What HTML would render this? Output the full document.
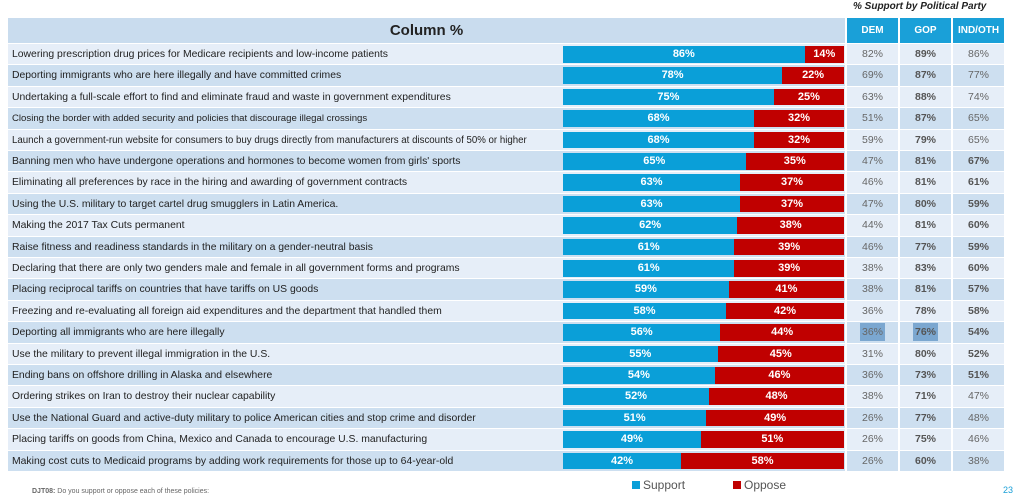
<!DOCTYPE html><html><head><meta charset="utf-8"><style>
*{margin:0;padding:0;box-sizing:border-box}
body{width:1024px;height:503px;background:#fff;font-family:"Liberation Sans",sans-serif;position:relative;overflow:hidden}
.hdr{position:absolute;top:18px;height:25px;background:#c9dcee;left:8px;width:837px;text-align:center;font-weight:bold;font-size:15px;line-height:25px;color:#222}
.ph{position:absolute;top:18px;height:25px;background:#1aa0d8;color:#fff;font-size:10px;font-weight:bold;text-align:center;line-height:25px}
.row{position:absolute;left:8px;width:996px;height:20.4px;display:flex}
.lab{width:837px;position:relative;font-size:10.4px;line-height:21px;padding-left:4px;color:#222;white-space:nowrap}
.row .c{width:51px;margin-left:2px;text-align:center;font-size:10.5px;line-height:21px;color:#666}
.b{color:#555!important;font-weight:bold}
.e{background:#e6eef8}.o{background:#cddff0}
.bar{position:absolute;left:555px;top:2px;height:16.5px;width:281px;display:flex;font-weight:bold;font-size:11px;color:#fff;line-height:16.5px;text-align:center}
.s{background:#0a9fd8}.p{background:#c00000}
</style></head><body>
<div style="position:absolute;left:853px;top:1px;font-size:10px;font-weight:bold;font-style:italic;color:#222">% Support by Political Party</div>
<div class="hdr">Column %</div>
<div class="ph" style="left:847px;width:51px">DEM</div>
<div class="ph" style="left:900px;width:51px">GOP</div>
<div class="ph" style="left:953px;width:51px">IND/OTH</div>

<div class="row" style="top:44px"><div class="lab e">Lowering prescription drug prices for Medicare recipients and low-income patients<div class="bar"><div class="s" style="width:86%">86%</div><div class="p" style="width:14%">14%</div></div></div><div class="c e">82%</div><div class="c e b">89%</div><div class="c e">86%</div></div>
<div class="row" style="top:65.4px"><div class="lab o">Deporting immigrants who are here illegally and have committed crimes<div class="bar"><div class="s" style="width:78%">78%</div><div class="p" style="width:22%">22%</div></div></div><div class="c o">69%</div><div class="c o b">87%</div><div class="c o">77%</div></div>
<div class="row" style="top:86.8px"><div class="lab e">Undertaking a full-scale effort to find and eliminate fraud and waste in government expenditures<div class="bar"><div class="s" style="width:75%">75%</div><div class="p" style="width:25%">25%</div></div></div><div class="c e">63%</div><div class="c e b">88%</div><div class="c e">74%</div></div>
<div class="row" style="top:108.2px"><div class="lab o" style="font-size:9.6px">Closing the border with added security and policies that discourage illegal crossings<div class="bar"><div class="s" style="width:68%">68%</div><div class="p" style="width:32%">32%</div></div></div><div class="c o">51%</div><div class="c o b">87%</div><div class="c o">65%</div></div>
<div class="row" style="top:129.6px"><div class="lab e" style="font-size:9.7px">Launch a government-run website for consumers to buy drugs directly from manufacturers at discounts of 50% or higher<div class="bar"><div class="s" style="width:68%">68%</div><div class="p" style="width:32%">32%</div></div></div><div class="c e">59%</div><div class="c e b">79%</div><div class="c e">65%</div></div>
<div class="row" style="top:151px"><div class="lab o">Banning men who have undergone operations and hormones to become women from girls' sports<div class="bar"><div class="s" style="width:65%">65%</div><div class="p" style="width:35%">35%</div></div></div><div class="c o">47%</div><div class="c o b">81%</div><div class="c o b">67%</div></div>
<div class="row" style="top:172.4px"><div class="lab e">Eliminating all preferences by race in the hiring and awarding of government contracts<div class="bar"><div class="s" style="width:63%">63%</div><div class="p" style="width:37%">37%</div></div></div><div class="c e">46%</div><div class="c e b">81%</div><div class="c e b">61%</div></div>
<div class="row" style="top:193.8px"><div class="lab o">Using the U.S. military to target cartel drug smugglers in Latin America.<div class="bar"><div class="s" style="width:63%">63%</div><div class="p" style="width:37%">37%</div></div></div><div class="c o">47%</div><div class="c o b">80%</div><div class="c o b">59%</div></div>
<div class="row" style="top:215.2px"><div class="lab e">Making the 2017 Tax Cuts permanent<div class="bar"><div class="s" style="width:62%">62%</div><div class="p" style="width:38%">38%</div></div></div><div class="c e">44%</div><div class="c e b">81%</div><div class="c e b">60%</div></div>
<div class="row" style="top:236.6px"><div class="lab o">Raise fitness and readiness standards in the military on a gender-neutral basis<div class="bar"><div class="s" style="width:61%">61%</div><div class="p" style="width:39%">39%</div></div></div><div class="c o">46%</div><div class="c o b">77%</div><div class="c o b">59%</div></div>
<div class="row" style="top:258px"><div class="lab e">Declaring that there are only two genders male and female in all government forms and programs<div class="bar"><div class="s" style="width:61%">61%</div><div class="p" style="width:39%">39%</div></div></div><div class="c e">38%</div><div class="c e b">83%</div><div class="c e b">60%</div></div>
<div class="row" style="top:279.4px"><div class="lab o">Placing reciprocal tariffs on countries that have tariffs on US goods<div class="bar"><div class="s" style="width:59%">59%</div><div class="p" style="width:41%">41%</div></div></div><div class="c o">38%</div><div class="c o b">81%</div><div class="c o b">57%</div></div>
<div class="row" style="top:300.8px"><div class="lab e">Freezing and re-evaluating all foreign aid expenditures and the department that handled them<div class="bar"><div class="s" style="width:58%">58%</div><div class="p" style="width:42%">42%</div></div></div><div class="c e">36%</div><div class="c e b">78%</div><div class="c e b">58%</div></div>
<div class="row" style="top:322.2px"><div class="lab o">Deporting all immigrants who are here illegally<div class="bar"><div class="s" style="width:56%">56%</div><div class="p" style="width:44%">44%</div></div></div><div class="c o"><span style="background:#7ba7d0;padding:3px 2px">36%</span></div><div class="c o b"><span style="background:#7ba7d0;padding:3px 2px">76%</span></div><div class="c o b">54%</div></div>
<div class="row" style="top:343.6px"><div class="lab e">Use the military to prevent illegal immigration in the U.S.<div class="bar"><div class="s" style="width:55%">55%</div><div class="p" style="width:45%">45%</div></div></div><div class="c e">31%</div><div class="c e b">80%</div><div class="c e b">52%</div></div>
<div class="row" style="top:365px"><div class="lab o">Ending bans on offshore drilling in Alaska and elsewhere<div class="bar"><div class="s" style="width:54%">54%</div><div class="p" style="width:46%">46%</div></div></div><div class="c o">36%</div><div class="c o b">73%</div><div class="c o b">51%</div></div>
<div class="row" style="top:386.4px"><div class="lab e">Ordering strikes on Iran to destroy their nuclear capability<div class="bar"><div class="s" style="width:52%">52%</div><div class="p" style="width:48%">48%</div></div></div><div class="c e">38%</div><div class="c e b">71%</div><div class="c e">47%</div></div>
<div class="row" style="top:407.8px"><div class="lab o">Use the National Guard and active-duty military to police American cities and stop crime and disorder<div class="bar"><div class="s" style="width:51%">51%</div><div class="p" style="width:49%">49%</div></div></div><div class="c o">26%</div><div class="c o b">77%</div><div class="c o">48%</div></div>
<div class="row" style="top:429.2px"><div class="lab e">Placing tariffs on goods from China, Mexico and Canada to encourage U.S. manufacturing<div class="bar"><div class="s" style="width:49%">49%</div><div class="p" style="width:51%">51%</div></div></div><div class="c e">26%</div><div class="c e b">75%</div><div class="c e">46%</div></div>
<div class="row" style="top:450.6px"><div class="lab o">Making cost cuts to Medicaid programs by adding work requirements for those up to 64-year-old<div class="bar"><div class="s" style="width:42%">42%</div><div class="p" style="width:58%">58%</div></div></div><div class="c o">26%</div><div class="c o b">60%</div><div class="c o">38%</div></div>

<div style="position:absolute;left:632px;top:479px;font-size:12px;color:#555;line-height:13px"><span style="display:inline-block;width:8px;height:8px;background:#0a9fd8;margin-right:3px"></span>Support</div>
<div style="position:absolute;left:733px;top:479px;font-size:12px;color:#555;line-height:13px"><span style="display:inline-block;width:8px;height:8px;background:#c00000;margin-right:3px"></span>Oppose</div>
<div style="position:absolute;left:32px;top:488px;font-size:7px;color:#666"><b>DJT08:</b> Do you support or oppose each of these policies:</div>
<div style="position:absolute;left:1003px;top:485px;font-size:9px;color:#1aa0d8">23</div>
</body></html>
